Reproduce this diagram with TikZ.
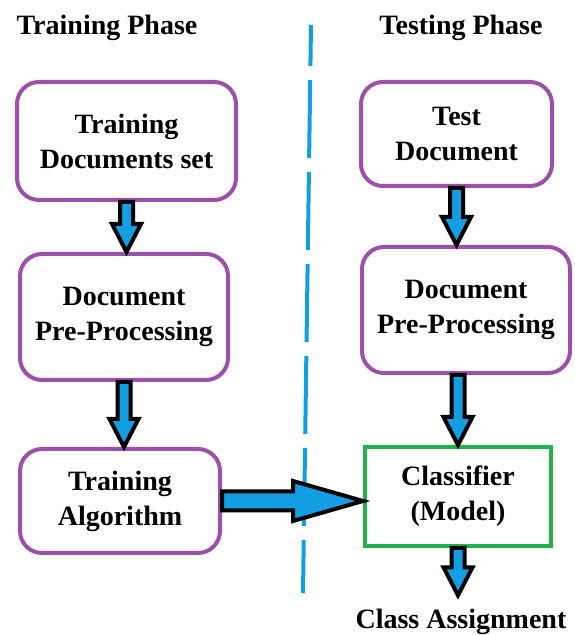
\documentclass[tikz,border=0pt]{standalone}
\usepackage{fontspec}
\setmainfont{Liberation Serif}
\usetikzlibrary{calc}
\definecolor{boxpurple}{RGB}{155,80,170}
\definecolor{boxgreen}{RGB}{34,177,76}
\definecolor{arrowblue}{RGB}{18,158,225}

% fat arrow pointing down, shaft at #1, tip at #2
\newcommand{\vblock}[2]{%
  \filldraw[blockarr] ($(#1)+(-6.5,0)$) -- ($(#2)+(-6.5,28)$) -- ($(#2)+(-14.5,28)$) -- (#2)
    -- ($(#2)+(14.5,28)$) -- ($(#2)+(6.5,28)$) -- ($(#1)+(6.5,0)$) -- cycle;}
% fat arrow pointing right, shaft at #1, tip at #2
\newcommand{\hblock}[2]{%
  \filldraw[blockarr] ($(#1)+(0,9.5)$) -- ($(#2)+(-70,9.5)$) -- ($(#2)+(-70,20)$) -- (#2)
    -- ($(#2)+(-70,-20)$) -- ($(#2)+(-70,-9.5)$) -- ($(#1)+(0,-9.5)$) -- cycle;}

\begin{document}
\begin{tikzpicture}[x=1pt, y=1pt,
    bigtext/.style={font=\fontsize{28}{35}\selectfont\bfseries},
    phase/.style={bigtext, anchor=base, inner sep=0pt},
    stepbox/.style={bigtext, draw=boxpurple, line width=4pt, rounded corners=22pt, align=center},
    modelbox/.style={bigtext, draw=boxgreen, line width=4pt, align=center},
    blockarr/.style={draw=black, fill=arrowblue, line width=4pt, line join=miter},
    divider/.style={draw=arrowblue, line width=4pt, dash pattern=on 78pt off 14pt, dash phase=37pt}]
  \useasboundingbox (0,0) rectangle (574,635);

  % headings
  \node[phase] (trph) at (107,600) {Training Phase};
  \node[phase] (teph) at (461,600) {Testing Phase};

  % split between the two phases
  \draw[divider] (311,610) -- (303,42);

  % training side
  \node[stepbox, minimum width=219pt, minimum height=118pt] (trdocs) at (126.5,494) {Training\\Documents set};
  \node[stepbox, minimum width=208pt, minimum height=126pt] (trprep) at (124,318) {Document\\Pre-Processing};
  \node[stepbox, minimum width=200pt, minimum height=104pt] (tralg) at (120,134) {Training\\Algorithm};

  % testing side
  \node[stepbox, minimum width=191pt, minimum height=104pt] (tedoc) at (456.5,501) {Test\\Document};
  \node[stepbox, minimum width=208pt, minimum height=126pt] (teprep) at (466,325) {Document\\Pre-Processing};
  \node[modelbox, minimum width=186pt, minimum height=99pt] (clf) at (458,138.5) {Classifier\\(Model)};
  \node[phase] (clsas) at (461,6) {Class Assignment};

  % arrows
  \coordinate (t1) at (trdocs.south |- trprep.north);
  \coordinate (t2) at (trprep.south |- tralg.north);
  \coordinate (t3) at (tedoc.south |- teprep.north);
  \coordinate (s4) at (clf.north |- teprep.south);
  \coordinate (t5) at ($(clf.south |- clsas.north)+(0,14)$);
  \coordinate (t6) at (tralg.east -| clf.west);
  \vblock{trdocs.south}{t1}
  \vblock{trprep.south}{t2}
  \vblock{tedoc.south}{t3}
  \vblock{s4}{clf.north}
  \vblock{clf.south}{t5}
  \hblock{tralg.east}{t6}
\end{tikzpicture}
\end{document}
